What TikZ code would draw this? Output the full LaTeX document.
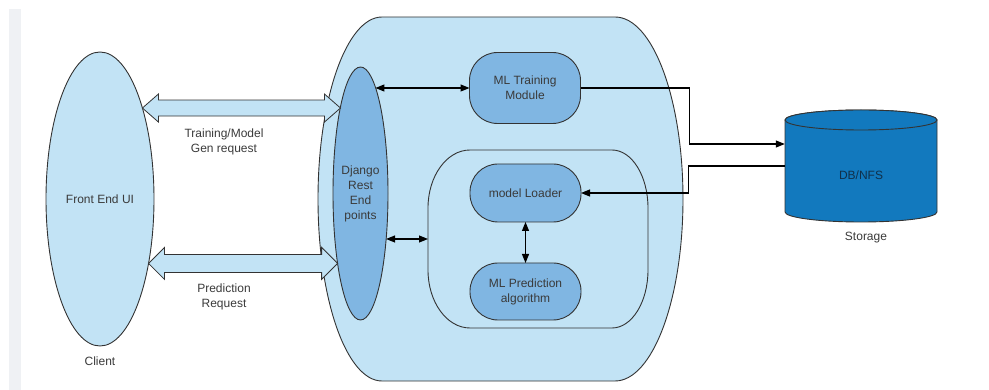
\documentclass[tikz,border=0pt]{standalone}
\usepackage{fontspec}
\setmainfont{Liberation Sans}
\usetikzlibrary{shapes.geometric,arrows.meta,calc}
\definecolor{paleblue}{HTML}{C2E3F5}
\definecolor{midblue}{HTML}{80B6E2}
\definecolor{dbblue}{HTML}{1279BE}
\definecolor{dbtext}{HTML}{10304A}
\definecolor{edge}{HTML}{333333}
\definecolor{ink}{HTML}{3A3A3A}
\definecolor{strip}{HTML}{EFF1F4}
\tikzset{
  txt/.style={font=\fontsize{12}{15}\selectfont, text=ink, align=center, inner sep=0pt},
  oval/.style={ellipse, draw=edge, line width=0.9pt, inner sep=0pt, outer sep=0pt, txt},
  pill/.style={rectangle, rounded corners=28pt, draw=edge, line width=0.9pt, fill=midblue,
               minimum width=111pt, outer sep=0pt, txt},
  link/.style={draw=black, line width=1.1pt, -{Triangle[length=9pt,width=7pt]}},
  biarrow/.style={link, {Triangle[length=9pt,width=7pt]}-{Triangle[length=9pt,width=7pt]}},
  fat/.style={draw=edge, line width=0.8pt, fill=paleblue, line join=miter},
  region/.style={draw=edge, line width=0.9pt},
}
% hollow double-headed block arrow between two tips on one horizontal line
% #1 left tip, #2 right tip, #3 head half-width, #4 shaft half-width
\newcommand\fatarrow[4]{%
  \draw[fat] (#1) -- ++(16,-#3) -- ++(0,{#3-#4}) -- ($(#2)+(-16,-#4)$)
    -- ++(0,{-(#3-#4)}) -- (#2) -- ++(-16,#3) -- ++(0,{-(#3-#4)})
    -- ($(#1)+(16,#4)$) -- ++(0,{#3-#4}) -- cycle;}
\begin{document}
\begin{tikzpicture}[x=1pt,y=-1pt]
\useasboundingbox (0,0) rectangle (989,390);
\fill[strip] (9,9) rectangle (21,390);

% server container
\draw[region, fill=paleblue] (382,17) -- (615,17)
  arc[start angle=-90,end angle=90,x radius=68,y radius=182] -- (382,381)
  arc[start angle=90,end angle=270,x radius=64,y radius=182] -- cycle;

% prediction group
\draw[region] (470,150) -- (612,150)
  arc[start angle=-90,end angle=0,x radius=36,y radius=58] -- (648,270)
  arc[start angle=0,end angle=90,x radius=36,y radius=58] -- (470,328)
  arc[start angle=90,end angle=180,x radius=42,y radius=58] -- (428,208)
  arc[start angle=180,end angle=270,x radius=42,y radius=58] -- cycle;
\coordinate (group) at (428,239);

% client
\node[oval, fill=paleblue, minimum width=108pt, minimum height=294pt] (client) at (100,199) {Front End UI};
\node[txt] (clientlbl) at (100,361) {Client};

% REST layer
\node[oval, fill=midblue, minimum width=55pt, minimum height=253pt] (django) at (360.5,193.5) {Django\\Rest\\End\\points};

% modules
\node[pill, minimum height=71pt] (train) at (525,88) {ML Training\\Module};
\node[pill, minimum height=58pt] (loader) at (525.5,193) {model Loader};
\node[pill, minimum height=57pt] (pred) at (525.5,291.5) {ML Prediction\\algorithm};

% storage cylinder
\draw[region, fill=dbblue] (785,120) -- (785,212)
  arc[start angle=180,end angle=0,x radius=76,y radius=10] -- (937,120)
  arc[start angle=0,end angle=-180,x radius=76,y radius=10] -- cycle;
\draw[region, fill=dbblue] (861,120) ellipse[x radius=76, y radius=10];
\node[minimum width=152pt, minimum height=92pt, inner sep=0pt] (db) at (861,166) {};
\node[txt, text=dbtext] (dblbl) at ($(db.center)+(0,9)$) {DB/NFS};
\node[txt] (storage) at (866,238) {Storage};

% request channels
\coordinate (t1) at (client.65);
\coordinate (t2) at (django.103 |- t1);
\fatarrow{t1}{t2}{14}{8}
\coordinate (b1) at (client.-53);
\coordinate (b2) at (django.252 |- b1);
\fatarrow{b1}{b2}{16}{9}
\node[txt] (trainreq) at (224,142) {Training/Model\\Gen request};
\node[txt] (predreq) at (224,297) {Prediction\\Request};

% internal links
\draw[biarrow] (django.82 |- train.west) -- (train.west);
\draw[biarrow] (django.-61 |- group) -- (group);
\draw[biarrow] (loader.south) -- (pred.north);
\draw[link] (train.east) -- ++(109,0) |- ([yshift=22pt]db.west);
\draw[link] (db.west) -- ++(-96,0) |- (loader.east);
\end{tikzpicture}
\end{document}
